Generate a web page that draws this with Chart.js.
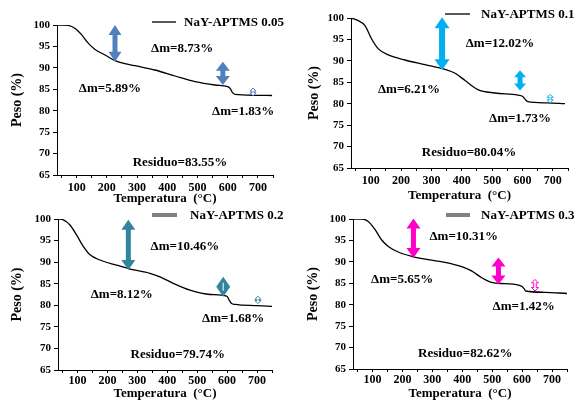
<!DOCTYPE html>
<html>
<head>
<meta charset="utf-8">
<script src="https://cdn.jsdelivr.net/npm/chart.js@4.4.1/dist/chart.umd.min.js"></script>
<style>
    html, body { margin: 0; padding: 0; background: #fff; }
    #wrap { position: relative; width: 574px; height: 400px; overflow: hidden; background: #fff; }
    canvas { position: absolute; }
</style>
</head>
<body>
<div id="wrap">
    <canvas id="c1" width="287" height="210" style="left:0;top:0"></canvas>
    <canvas id="c2" width="287" height="210" style="left:287px;top:0"></canvas>
    <canvas id="c3" width="287" height="200" style="left:0;top:200px"></canvas>
    <canvas id="c4" width="287" height="200" style="left:287px;top:200px"></canvas>
</div>
<script>

/**
 * data
 */

const temp005 = [ 35, 50, 72, 95, 117, 139, 161, 194, 227, 293, 359, 426, 492, 558, 600, 608, 616, 624, 690, 747 ];
const peso005 = [ 100, 100, 99.9, 99.2, 97.7, 95.7, 94.3, 93.0, 91.7, 90.5, 89.5, 88.1, 86.8, 86.0, 85.6, 85.2, 84.2, 83.8, 83.6, 83.55 ];

const temp01 = [ 35, 55, 81, 103, 125, 158, 213, 279, 345, 378, 411, 453, 509, 585, 601, 609, 617, 680, 740 ];
const peso01 = [ 100, 99.5, 98.2, 95.1, 92.8, 91.4, 90.2, 89.1, 88.0, 87.1, 85.4, 83.3, 82.5, 82.0, 81.7, 81.0, 80.5, 80.2, 80.04 ];

const temp02 = [ 35, 53, 75, 97, 120, 142, 175, 231, 276, 342, 376, 420, 476, 543, 599, 607, 615, 626, 700, 750 ];
const peso02 = [ 100, 99.8, 98.6, 96.3, 93.6, 91.7, 90.5, 89.3, 88.4, 87.4, 86.6, 85.1, 83.5, 82.5, 82.1, 81.2, 80.4, 80.2, 79.9, 79.74 ];

const temp03 = [ 35, 64, 86, 109, 131, 153, 186, 231, 287, 342, 398, 431, 465, 498, 543, 599, 606, 612, 676, 750 ];
const peso03 = [ 100, 100, 99.4, 97.5, 95.1, 93.6, 92.3, 91.3, 90.5, 89.9, 88.9, 87.9, 86.3, 85.2, 84.9, 84.3, 83.8, 83.2, 82.9, 82.62 ];

const tempTicks = [ 50, 100, 150, 200, 250, 300, 350, 400, 450, 500, 550, 600, 650, 700, 750 ];
const tempLabels = [ 100, 200, 300, 400, 500, 600, 700 ];

const labels = [ 'NaY-APTMS 0.05', 'NaY-APTMS 0.1', 'NaY-APTMS 0.2', 'NaY-APTMS 0.3' ];

/**
 * panel setup: layout, colours and annotations
 */

const serif = '"Liberation Serif", "Times New Roman", serif';

const panels = [
    {
        id: 'c1', label: labels[0], temps: temp005, pesos: peso005, colour: '#4F81BD',
        left: 57, top: 25, padRight: 14, xAxisH: 35, xTitlePad: 5, yTitlePad: 11, xTickPad: 3,
        legend: { x1: 152, x2: 176, y: 22, tx: 184, w: 1.3, c: '#000' },
        arrows: [
            { t: 227, top: 100, bottom: 91.4, w: 13, head: 10, shaft: 5 },
            { t: 584, top: 91.4, bottom: 86.0, w: 14, head: 9, shaft: 5 },
            { t: 684, top: 85.3, bottom: 83.5, w: 6, head: 3, shaft: 2, outline: true }
        ],
        notes: [
            { t: 449, p: 94.6, text: 'Δm=8.73%' },
            { t: 210, p: 85.1, text: 'Δm=5.89%' },
            { t: 651, p: 79.7, text: 'Δm=1.83%' },
            { t: 442, p: 67.8, text: 'Residuo=83.55%' }
        ]
    },
    {
        id: 'c2', label: labels[1], temps: temp01, pesos: peso01, colour: '#00B0F0',
        left: 64, top: 18, padRight: 6, xAxisH: 42, xTitlePad: 8, yTitlePad: 21, xTickPad: 3,
        legend: { x1: 158, x2: 183, y: 14, tx: 194, w: 1.3, c: '#000' },
        arrows: [
            { t: 335, top: 100.2, bottom: 87.8, w: 15, head: 11, shaft: 6 },
            { t: 592, top: 87.8, bottom: 83.1, w: 12, head: 7, shaft: 5 },
            { t: 691, top: 82.2, bottom: 80.2, w: 6, head: 3, shaft: 2, outline: true }
        ],
        notes: [
            { t: 526, p: 94.0, text: 'Δm=12.02%' },
            { t: 226, p: 83.2, text: 'Δm=6.21%' },
            { t: 592, p: 76.6, text: 'Δm=1.73%' },
            { t: 424, p: 68.5, text: 'Residuo=80.04%' }
        ]
    },
    {
        id: 'c3', label: labels[2], temps: temp02, pesos: peso02, colour: '#31859C',
        left: 58, top: 19, padRight: 15, xAxisH: 30, xTitlePad: 0, yTitlePad: 11, xTickPad: 1,
        legend: { x1: 152, x2: 177, y: 15, tx: 190, w: 4, c: '#808080' },
        arrows: [
            { t: 270, top: 99.8, bottom: 88.2, w: 14, head: 10, shaft: 5 },
            { t: 587, top: 86.6, bottom: 82.0, w: 14, head: 10, shaft: 5, inner: true },
            { t: 703, top: 82.1, bottom: 80.4, w: 6, head: 3, shaft: 2, outline: true }
        ],
        notes: [
            { t: 459, p: 93.6, text: 'Δm=10.46%' },
            { t: 248, p: 82.4, text: 'Δm=8.12%' },
            { t: 620, p: 77.0, text: 'Δm=1.68%' },
            { t: 435, p: 68.5, text: 'Residuo=79.74%' }
        ]
    },
    {
        id: 'c4', label: labels[3], temps: temp03, pesos: peso03, colour: '#FF00CC',
        left: 66, top: 19, padRight: 7, xAxisH: 31, xTitlePad: 0, yTitlePad: 20, xTickPad: 1,
        legend: { x1: 159, x2: 183, y: 15, tx: 194, w: 4, c: '#808080' },
        arrows: [
            { t: 237, top: 100.1, bottom: 90.9, w: 14, head: 10, shaft: 5 },
            { t: 521, top: 91.0, bottom: 84.7, w: 14, head: 9, shaft: 5 },
            { t: 643, top: 85.9, bottom: 83.2, w: 7, head: 3.5, shaft: 2.5, outline: true }
        ],
        notes: [
            { t: 405, p: 95.8, text: 'Δm=10.31%' },
            { t: 199, p: 85.9, text: 'Δm=5.65%' },
            { t: 605, p: 79.5, text: 'Δm=1.42%' },
            { t: 410, p: 68.7, text: 'Residuo=82.62%' }
        ]
    }
];

/**
 * block double arrow
 */

function drawArrow( ctx, cx, yTop, yBot, a, colour ) {

    let hw = a.w / 2, sw = a.shaft / 2;
    let head = Math.min( a.head, ( yBot - yTop ) / 2 );

    ctx.beginPath();
    ctx.moveTo( cx, yTop );
    ctx.lineTo( cx + hw, yTop + head );
    ctx.lineTo( cx + sw, yTop + head );
    ctx.lineTo( cx + sw, yBot - head );
    ctx.lineTo( cx + hw, yBot - head );
    ctx.lineTo( cx, yBot );
    ctx.lineTo( cx - hw, yBot - head );
    ctx.lineTo( cx - sw, yBot - head );
    ctx.lineTo( cx - sw, yTop + head );
    ctx.lineTo( cx - hw, yTop + head );
    ctx.closePath();

    if( a.outline ) {
        ctx.fillStyle = '#fff';
        ctx.fill();
        ctx.lineWidth = 1;
        ctx.strokeStyle = colour;
        ctx.stroke();
    } else {
        ctx.fillStyle = colour;
        ctx.fill();
    }

    if( a.inner ) {
        let my = ( yTop + yBot ) / 2;
        ctx.strokeStyle = '#fff';
        ctx.lineWidth = 1;
        ctx.beginPath();
        ctx.moveTo( cx, my - 4 );
        ctx.lineTo( cx, my + 4 );
        ctx.stroke();
    }

}

/**
 * create the four charts
 */

panels.forEach( function ( p ) {

    let canvas = document.getElementById( p.id );

    new Chart( canvas.getContext( '2d' ), {
        type: 'line',
        data: {
            datasets: [ {
                data: p.temps.map( ( t, i ) => ( { x: t, y: p.pesos[ i ] } ) ),
                borderColor: '#000',
                borderWidth: 1.3,
                pointRadius: 0,
                cubicInterpolationMode: 'monotone',
                fill: false
            } ]
        },
        options: {
            responsive: false,
            animation: false,
            layout: {
                padding: { top: p.top, right: p.padRight, bottom: 0, left: 0 }
            },
            plugins: {
                legend: { display: false },
                tooltip: { enabled: false }
            },
            scales: {
                x: {
                    type: 'linear',
                    min: 35,
                    max: 750,
                    afterBuildTicks: ( scale ) => {
                        scale.ticks = tempTicks.map( v => ( { value: v } ) );
                    },
                    afterFit: ( scale ) => {
                        scale.height = p.xAxisH;
                    },
                    border: { color: '#000', width: 1 },
                    grid: { drawOnChartArea: false, tickLength: 3, color: '#000' },
                    ticks: {
                        autoSkip: false,
                        maxRotation: 0,
                        padding: p.xTickPad,
                        color: '#000',
                        font: { family: serif, size: 12, weight: 'bold' },
                        callback: ( value ) => tempLabels.includes( value ) ? String( value ) : ''
                    },
                    title: {
                        display: true,
                        text: 'Temperatura  (°C)',
                        color: '#000',
                        font: { family: serif, size: 13, weight: 'bold', lineHeight: 1 },
                        padding: { top: 0, bottom: p.xTitlePad }
                    }
                },
                y: {
                    min: 65,
                    max: 100,
                    afterFit: ( scale ) => {
                        scale.width = p.left;
                    },
                    border: { color: '#000', width: 1 },
                    grid: { drawOnChartArea: false, tickLength: 4, color: '#000' },
                    ticks: {
                        stepSize: 5,
                        padding: 3,
                        color: '#000',
                        font: { family: serif, size: 11, weight: 'bold' }
                    },
                    title: {
                        display: true,
                        text: 'Peso (%)',
                        color: '#000',
                        font: { family: serif, size: 14, weight: 'bold', lineHeight: 1 },
                        padding: { top: p.yTitlePad - 1, bottom: 0 }
                    }
                }
            }
        },
        plugins: [ {
            id: 'notes',
            afterDatasetsDraw( chart ) {

                let ctx = chart.ctx;
                let x = chart.scales.x, y = chart.scales.y;

                ctx.save();

                p.arrows.forEach( a => {
                    drawArrow( ctx, x.getPixelForValue( a.t ), y.getPixelForValue( a.top ), y.getPixelForValue( a.bottom ), a, p.colour );
                } );

                ctx.fillStyle = '#000';
                ctx.font = 'bold 13px ' + serif;
                ctx.textAlign = 'center';
                ctx.textBaseline = 'middle';

                p.notes.forEach( n => {
                    ctx.fillText( n.text, x.getPixelForValue( n.t ), y.getPixelForValue( n.p ) );
                } );

                // legend
                ctx.strokeStyle = p.legend.c;
                ctx.lineWidth = p.legend.w;
                ctx.beginPath();
                ctx.moveTo( p.legend.x1, p.legend.y );
                ctx.lineTo( p.legend.x2, p.legend.y );
                ctx.stroke();

                ctx.textAlign = 'left';
                ctx.fillText( p.label, p.legend.tx, p.legend.y + 1 );

                ctx.restore();

            }
        } ]
    } );

} );

</script>
</body>
</html>
